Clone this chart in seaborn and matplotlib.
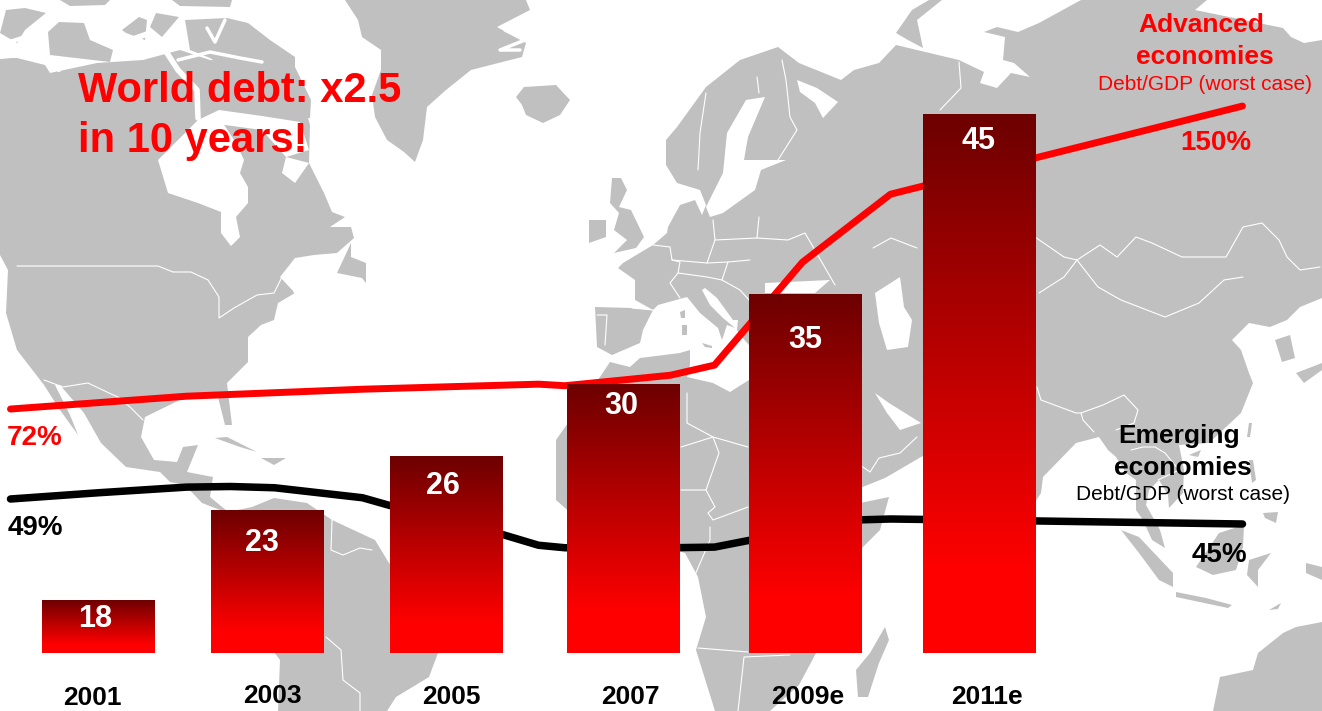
import numpy as np
import pandas as pd
import seaborn as sns
import matplotlib.pyplot as plt
from matplotlib.colors import LinearSegmentedColormap
from matplotlib.patches import Polygon

# chart data
years = [2001, 2003, 2005, 2007, 2009, 2011]
year_labels = ['2001', '2003', '2005', '2007', '2009e', '2011e']
world_debt = [18, 23, 26, 30, 35, 45]

adv_years = [2000, 2002, 2004, 2006, 2006.3, 2007.5, 2008, 2009, 2010, 2014]
adv_debt_gdp = [72, 75.3, 77.1, 78.4, 78, 80.7, 83.3, 109.8, 127.3, 150]

emg_years = [2000, 2001, 2002, 2002.5, 2003, 2004, 2004.3, 2005.5, 2006, 2006.3, 2007.5, 2008, 2008.4, 2009.5, 2010,
             2011.6, 2014]
emg_debt_gdp = [49, 50, 50.9, 51, 50.8, 49.2, 48, 43.7, 41.6, 41.2, 41.2, 41.3, 42.4, 45.6, 45.8, 45.5, 45]

W, H = 1322, 711
GRAY = '#c0c0c0'
RED = '#ff0000'
BAR_BASE = 15.05
BAR_SHIFT_PX = [0, -7, -4, -3, 2.5, 1]
PX_PER_YEAR = 88

# background map, traced in pixels
LAND = [
    # north and central america
    [(0, 58), (17, 58), (45, 65), (50, 73), (97, 63), (143, 60), (180, 50), (210, 60), (250, 62), (285, 65), (300, 90),
     (310, 125), (309, 163), (324, 193), (332, 212), (345, 217), (330, 227), (351, 227), (354, 238), (337, 253),
     (314, 255), (295, 258), (280, 277), (295, 293), (278, 303), (274, 320), (261, 325), (248, 337), (248, 362),
     (227, 383), (229, 400), (232, 425), (225, 425), (218, 397), (194, 393), (145, 417), (141, 437), (154, 460),
     (177, 462), (183, 447), (198, 445), (187, 472), (213, 477), (210, 497), (232, 515), (215, 508), (202, 503),
     (185, 485), (170, 482), (160, 472), (126, 467), (101, 443), (84, 413), (60, 385), (55, 385), (70, 415), (78, 435),
     (60, 410), (44, 385), (17, 350), (6, 313), (8, 270), (0, 255)],
    # south america
    [(228, 512), (252, 507), (274, 498), (307, 503), (332, 520), (375, 540), (389, 563), (430, 590), (445, 640),
     (438, 653), (429, 677), (396, 697), (387, 711), (278, 711), (280, 660), (250, 620), (228, 570)],
    # greenland
    [(345, 0), (358, 20), (362, 37), (381, 50), (381, 70), (372, 95), (375, 117), (387, 140), (404, 152), (415, 162),
     (423, 140), (427, 107), (446, 90), (471, 70), (522, 57), (526, 43), (497, 27), (530, 10), (526, 0)],
    # iceland
    [(516, 97), (524, 87), (556, 85), (570, 100), (560, 115), (543, 123), (526, 115), (522, 105)],
    # arctic islands
    [(6, 10), (25, 8), (46, 13), (25, 30), (17, 43), (0, 33)],
    [(48, 32), (59, 22), (84, 23), (90, 40), (113, 50), (110, 62), (50, 55)],
    [(122, 30), (139, 17), (147, 20), (145, 40), (126, 33)],
    [(60, 0), (110, 0), (105, 5), (70, 6)],
    [(172, 0), (232, 0), (230, 7), (180, 6)],
    [(156, 13), (179, 17), (162, 37), (150, 27)],
    [(185, 20), (227, 18), (248, 23), (270, 40), (295, 57), (295, 67), (311, 100), (310, 118), (290, 118), (270, 95),
     (240, 78), (210, 58), (190, 50)],
    # newfoundland
    [(351, 243), (337, 273), (362, 278), (366, 283), (366, 263), (351, 257)],
    # caribbean
    [(215, 438), (227, 437), (257, 452), (240, 447)],
    [(261, 458), (286, 458), (274, 465)],
    # uk and ireland
    [(612, 178), (621, 178), (627, 190), (619, 207), (631, 210), (644, 237), (636, 248), (614, 253), (627, 240),
     (614, 230), (619, 213), (610, 203)],
    [(589, 220), (606, 220), (606, 237), (589, 243)],
    # eurasia
    [(618, 268), (623, 263), (653, 245), (667, 233), (668, 227), (680, 205), (695, 200), (702, 215), (706, 205),
     (700, 190), (677, 183), (666, 165), (666, 140), (677, 127), (706, 87), (740, 60), (778, 47), (799, 63), (841, 80),
     (854, 70), (879, 63), (896, 45), (938, 55), (959, 60), (984, 72), (980, 83), (997, 88), (1011, 73), (1030, 77),
     (1014, 63), (1003, 60), (1005, 37), (984, 32), (997, 27), (1018, 32), (1039, 23), (1081, 0), (1207, 0),
     (1195, 10), (1283, 28), (1291, 37), (1304, 43), (1322, 40), (1322, 298), (1300, 307), (1287, 320), (1270, 327),
     (1249, 323), (1232, 340), (1241, 350), (1249, 373), (1253, 383), (1241, 413), (1209, 443), (1179, 445),
     (1184, 470), (1183, 493), (1169, 508), (1168, 495), (1159, 480), (1149, 490), (1146, 505), (1160, 530),
     (1165, 548), (1152, 540), (1143, 520), (1136, 510), (1136, 480), (1126, 473), (1116, 457), (1108, 450),
     (1099, 437), (1076, 443), (1043, 477), (1041, 493), (1030, 510), (960, 440), (921, 457), (885, 478), (860, 488),
     (845, 470), (840, 380), (760, 345), (749, 345), (740, 335), (737, 330), (738, 320), (733, 320), (717, 298),
     (705, 288), (702, 290), (710, 305), (723, 318), (735, 328), (727, 325), (722, 340), (718, 328), (700, 313),
     (687, 297), (658, 305), (653, 310), (635, 300), (635, 280)],
    # iberia
    [(595, 307), (632, 308), (653, 310), (643, 330), (640, 343), (612, 355), (597, 347)],
    # med islands
    [(680, 312), (685, 310), (685, 318), (681, 318)],
    [(682, 325), (687, 325), (687, 335), (682, 335)],
    [(702, 343), (712, 346), (712, 348), (705, 347)],
    # africa
    [(610, 362), (630, 367), (640, 358), (680, 353), (690, 350), (690, 365), (687, 377), (713, 383), (730, 392),
     (749, 380), (800, 400), (830, 470), (860, 503), (889, 497), (880, 530), (860, 550), (830, 620), (815, 655),
     (799, 685), (770, 711), (715, 711), (696, 650), (706, 617), (698, 577), (685, 553), (640, 540), (590, 530),
     (556, 500), (556, 440), (598, 380)],
    # islands in the east
    [(885, 627), (889, 640), (879, 663), (868, 697), (858, 697), (856, 670), (870, 653)],
    [(896, 33), (912, 10), (929, 0), (942, 0), (917, 20), (923, 48), (908, 40)],
    [(1121, 530), (1139, 537), (1173, 573), (1173, 587), (1159, 580), (1139, 553)],
    [(1196, 567), (1219, 533), (1244, 525), (1243, 547), (1236, 570), (1213, 575)],
    [(1176, 592), (1206, 598), (1232, 605), (1228, 608), (1176, 597)],
    [(1269, 610), (1281, 603), (1278, 609)],
    [(1249, 560), (1271, 553), (1258, 570), (1258, 587), (1247, 575)],
    [(1263, 513), (1278, 512), (1276, 523), (1265, 518)],
    [(1249, 460), (1253, 460), (1256, 480), (1252, 483)],
    [(1249, 423), (1252, 423), (1250, 437), (1247, 437)],
    [(1189, 455), (1201, 450), (1198, 457)],
    [(1306, 563), (1322, 567), (1322, 580), (1306, 573)],
    [(1296, 373), (1322, 363), (1322, 370), (1304, 383)],
    [(1275, 340), (1290, 335), (1295, 358), (1282, 362)],
    [(1322, 622), (1296, 627), (1283, 633), (1258, 653), (1253, 670), (1220, 677), (1213, 711), (1322, 711)],
]

WATER = [
    # hudson bay and straits
    [(158, 160), (168, 193), (198, 203), (221, 212), (221, 233), (231, 246), (240, 237), (236, 217), (248, 203),
     (248, 187), (240, 173), (244, 160), (236, 143), (219, 117), (198, 120), (185, 133)],
    [(198, 120), (219, 110), (262, 116), (300, 122), (309, 150), (286, 157), (262, 130), (225, 125)],
    [(282, 173), (286, 157), (309, 163), (295, 183)],
    [(309, 273), (328, 277), (324, 290), (311, 287)],
    # seas
    [(746, 100), (765, 97), (748, 137), (744, 160), (786, 160), (761, 170), (755, 190), (723, 213), (710, 217),
     (706, 207), (723, 173), (727, 133)],
    [(797, 80), (817, 88), (838, 102), (823, 118), (815, 103), (800, 92)],
    [(875, 293), (900, 277), (904, 307), (912, 320), (908, 347), (887, 350), (879, 323)],
    [(765, 283), (830, 280), (815, 293), (765, 293)],
    [(875, 393), (889, 403), (921, 423), (900, 430), (887, 413)],
]

CHANNELS = [
    ([(130, 40), (150, 33), (165, 50), (178, 70), (197, 90), (198, 118)], 4),
    ([(178, 60), (210, 52), (240, 58), (262, 62)], 2.5),
    ([(225, 20), (215, 42), (207, 28)], 2.5),
    ([(0, 45), (25, 37), (55, 18), (97, 17), (114, 43)], 3),
    ([(0, 57), (42, 53), (59, 70)], 3),
    ([(505, 30), (525, 40), (500, 50), (520, 50)], 2.5),
]

BORDERS = [
    [(17, 266), (158, 266), (173, 272), (191, 272), (208, 280), (219, 297), (219, 318), (234, 308), (257, 295),
     (274, 293), (282, 277), (290, 278), (295, 295)],
    [(44, 380), (63, 387), (88, 383), (109, 393), (118, 397), (130, 407), (143, 420)],
    [(873, 248), (891, 238), (917, 248)],
    [(1035, 237), (1064, 257), (1077, 260), (1100, 245), (1117, 257), (1136, 237), (1152, 243), (1182, 257), (1207, 257),
     (1226, 257), (1243, 227), (1262, 223), (1279, 240), (1287, 257), (1300, 270), (1320, 267)],
    [(1077, 260), (1098, 287), (1121, 300), (1165, 317), (1199, 303), (1224, 280), (1243, 277)],
    [(1077, 260), (1064, 277), (1039, 293)],
    [(782, 60), (786, 80), (790, 117), (797, 130), (778, 160)],
    [(706, 93), (700, 133), (698, 170)],
    [(757, 77), (759, 93)],
    [(959, 62), (961, 88), (940, 110)],
    [(713, 220), (715, 240), (757, 238), (759, 217)],
    [(757, 238), (788, 240), (805, 233), (835, 285)],
    [(653, 245), (670, 247), (672, 260), (680, 262), (678, 273), (670, 283), (680, 298)],
    [(672, 260), (707, 263), (715, 240)],
    [(678, 273), (707, 277), (722, 280), (740, 290), (749, 300)],
    [(707, 263), (728, 262), (750, 260)],
    [(722, 280), (728, 262)],
    [(632, 308), (653, 310)],
    [(597, 315), (607, 315), (605, 345)],
    [(687, 393), (687, 423), (713, 437), (748, 447)],
    [(681, 447), (713, 437), (719, 453), (706, 490), (681, 490)],
    [(706, 490), (715, 507), (708, 513), (713, 520), (748, 507)],
    [(710, 527), (710, 540), (695, 575)],
    [(860, 465), (870, 472), (879, 458), (900, 453), (917, 437)],
    [(698, 648), (748, 652)],
    [(738, 711), (744, 657), (790, 655)],
    [(326, 637), (341, 650), (343, 680), (360, 693), (360, 711)],
    [(332, 520), (331, 550), (343, 555), (360, 548), (372, 550)],
    [(1037, 387), (1041, 400), (1076, 413), (1081, 413), (1103, 405), (1124, 395), (1138, 410), (1134, 423), (1116, 430)],
    [(1081, 413), (1083, 420), (1094, 432)],
    [(1131, 450), (1143, 447), (1155, 447), (1165, 453), (1179, 470), (1158, 480)],
]

sns.set_theme(style='white')
plt.rcParams['font.family'] = ['Liberation Sans', 'DejaVu Sans']

fig = plt.figure(figsize=(W / 100, H / 100), dpi=100, facecolor='white')


def full_axes(zorder):
    a = fig.add_axes([0, 0, 1, 1], zorder=zorder)
    a.set_axis_off()
    a.patch.set_alpha(0)
    return a


def px_text(x, y, s, size, color, weight='bold'):
    fig.text(x / W, 1 - y / H, s, fontsize=size, color=color, fontweight=weight,
             ha='center', va='center', zorder=10)


# map
ax_map = full_axes(0)
ax_map.set_xlim(0, W)
ax_map.set_ylim(H, 0)
for pts in LAND:
    ax_map.add_patch(Polygon(pts, closed=True, facecolor=GRAY, edgecolor='none', zorder=1))
for pts in WATER:
    ax_map.add_patch(Polygon(pts, closed=True, facecolor='white', edgecolor='none', zorder=2))
for pts, lw in CHANNELS:
    xs, ys = zip(*pts)
    ax_map.plot(xs, ys, color='white', linewidth=lw, zorder=3)
for pts in BORDERS:
    xs, ys = zip(*pts)
    ax_map.plot(xs, ys, color='white', linewidth=0.8, zorder=3)

xlim = (2001 - 98.5 / PX_PER_YEAR, 2001 + (W - 98.5) / PX_PER_YEAR)

# debt/GDP lines, each on its own scale, behind the bars
ax_adv = full_axes(1)
sns.lineplot(x=adv_years, y=adv_debt_gdp, color=RED, linewidth=5, errorbar=None, ax=ax_adv,
             solid_capstyle='round', solid_joinstyle='round')
ax_adv.set_xlim(xlim)
ax_adv.set_ylim(-5.74, 177.3)

ax_emg = full_axes(2)
sns.lineplot(x=emg_years, y=emg_debt_gdp, color='black', linewidth=5.4, errorbar=None, ax=ax_emg,
             solid_capstyle='round', solid_joinstyle='round')
ax_emg.set_xlim(xlim)
ax_emg.set_ylim(15.08, 128.84)

# bars with a vertical gradient
df = pd.DataFrame({'year': years, 'debt': world_debt})
ax = full_axes(3)
sns.barplot(data=df, x='year', y='debt', native_scale=True, width=0.64, color=RED, ax=ax)
ax.set_xlim(xlim)
ax.set_ylim(BAR_BASE - 58 / 18, BAR_BASE + 653 / 18)
ax.set_axis_off()

cmap = LinearSegmentedColormap.from_list('bar', [(0, '#6c0000'), (0.85, '#ff0000'), (1, '#ff0000')])
grad = np.linspace(0, 1, 256).reshape(-1, 1)
for bar, value, shift in zip(ax.patches, world_debt, BAR_SHIFT_PX):
    bar.set_x(bar.get_x() + shift / PX_PER_YEAR)
    bar.set_y(BAR_BASE)
    bar.set_height(value - BAR_BASE)
    bar.set_facecolor('none')
    bar.set_edgecolor('none')
    x0 = bar.get_x()
    im = ax.imshow(grad, cmap=cmap, aspect='auto', vmin=0, vmax=1, origin='upper',
                   extent=(x0, x0 + bar.get_width(), BAR_BASE, value), zorder=2)
    im.set_clip_path(bar)
ax.set_xlim(xlim)
ax.set_ylim(BAR_BASE - 58 / 18, BAR_BASE + 653 / 18)

# value labels and year labels
value_x = [95, 262, 443, 621, 805, 978]
value_y = [619, 543, 486, 406, 340, 141]
for x, y, v in zip(value_x, value_y, world_debt):
    px_text(x, y, str(v), 22, 'white')

label_x = [92, 272, 451, 630, 808, 987]
label_y = [698, 696, 697, 697, 697, 697]
for x, y, s in zip(label_x, label_y, year_labels):
    px_text(x, y, s, 19, 'black')

# annotations
fig.text(78 / W, 1 - 91 / H, 'World debt: x2.5', fontsize=30, color=RED, fontweight='bold', va='center', zorder=10)
fig.text(78 / W, 1 - 141 / H, 'in 10 years!', fontsize=30, color=RED, fontweight='bold', va='center', zorder=10)

px_text(1201, 25, 'Advanced', 19, RED)
px_text(1205, 57, 'economies', 19, RED)
px_text(1205, 84, 'Debt/GDP (worst case)', 15, RED, weight='normal')
px_text(1216, 143, '150%', 20, RED)
px_text(35, 438, '72%', 20, RED)

px_text(1179, 436, 'Emerging', 19, 'black')
px_text(1183, 468, 'economies', 19, 'black')
px_text(1183, 495, 'Debt/GDP (worst case)', 15, 'black', weight='normal')
px_text(1219, 555, '45%', 20, 'black')
px_text(35, 528, '49%', 20, 'black')

fig.savefig('out.png', dpi=100, facecolor='white')
plt.close(fig)
